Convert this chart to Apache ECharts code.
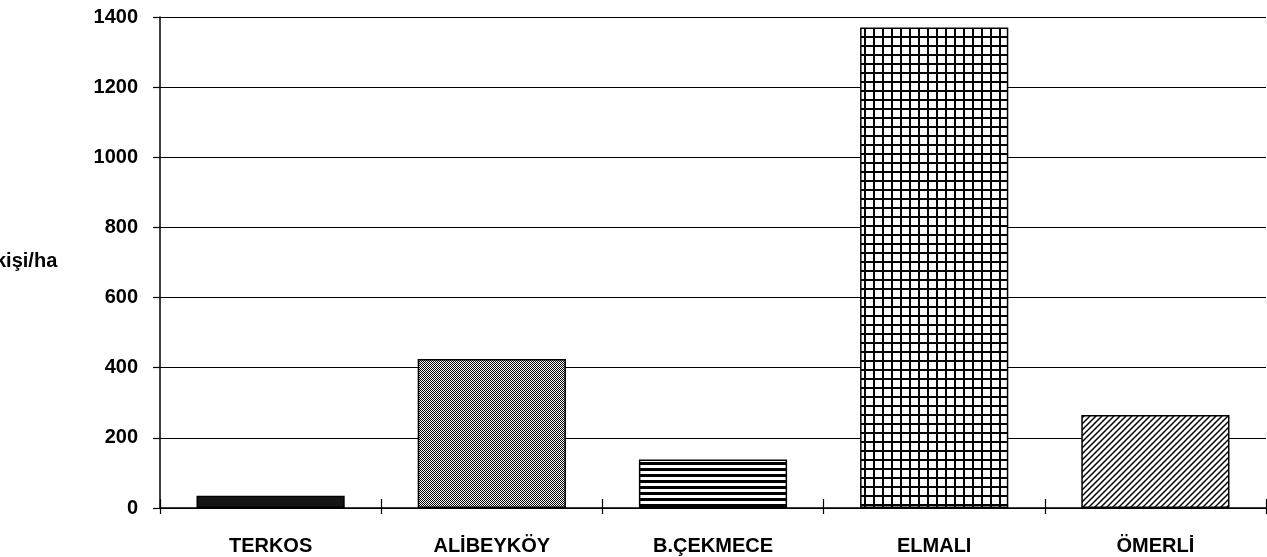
<!DOCTYPE html>
<html>
<head>
<meta charset="utf-8">
<script src="https://cdn.jsdelivr.net/npm/echarts@6/dist/echarts.min.js"></script>
<style>
  html, body { margin: 0; padding: 0; background: #fff; }
  #bar-chart { width: 1267px; height: 557px; }
</style>
</head>
<body>
<div id="bar-chart"></div>
<script>
var categories = ['TERKOS', 'ALİBEYKÖY', 'B.ÇEKMECE', 'ELMALI', 'ÖMERLİ'];
var values = [35, 425, 138, 1370, 265];
var yTicks = [0, 200, 400, 600, 800, 1000, 1200, 1400];
var yTitle = 'kişi/ha';

// small canvas tiles for the hatch fills
function tile(size, draw) {
    var c = document.createElement('canvas');
    c.width = size; c.height = size;
    var ctx = c.getContext('2d');
    ctx.fillStyle = '#fff';
    ctx.fillRect(0, 0, size, size);
    ctx.fillStyle = '#000';
    draw(ctx, size);
    return { image: c, repeat: 'repeat' };
}

var fills = [
    '#151515',
    tile(4, function (ctx) {
        // dithered grey
        ctx.fillRect(0, 0, 1, 1); ctx.fillRect(2, 0, 1, 1);
        ctx.fillRect(1, 1, 1, 1); ctx.fillRect(3, 1, 1, 1);
        ctx.fillRect(0, 2, 1, 1); ctx.fillRect(2, 2, 1, 1);
        ctx.fillRect(1, 3, 1, 1); ctx.fillRect(3, 3, 1, 1);
    }),
    tile(6, function (ctx, s) {
        ctx.fillRect(0, 0, s, 3);
    }),
    tile(9, function (ctx, s) {
        ctx.fillRect(0, 0, s, 2);
        ctx.fillRect(0, 0, 2, s);
    }),
    tile(6, function (ctx, s) {
        ctx.strokeStyle = '#000';
        ctx.lineWidth = 1.5;
        ctx.beginPath();
        ctx.moveTo(-1, s + 1); ctx.lineTo(s + 1, -1);
        ctx.moveTo(-1, 1); ctx.lineTo(1, -1);
        ctx.moveTo(s - 1, s + 1); ctx.lineTo(s + 1, s - 1);
        ctx.stroke();
    })
];

var myChart = echarts.init(document.getElementById('bar-chart'));

var font = 'Liberation Sans, Arial, Helvetica, sans-serif';

var option = {
    animation: false,
    backgroundColor: '#fff',
    grid: { left: 160, right: 1, top: 17, bottom: 49 },
    graphic: [{
        type: 'text',
        left: -5,
        top: 251,
        style: { text: yTitle, font: 'bold 20px ' + font, fill: '#000' }
    }],
    xAxis: [{
        type: 'category',
        data: categories,
        axisLine: { lineStyle: { color: '#000', width: 1.5 } },
        axisTick: { show: true, length: 6, lineStyle: { color: '#000', width: 1.2 } },
        axisLabel: { color: '#000', fontSize: 20, fontWeight: 'bold', fontFamily: font, margin: 28 }
    }, {
        type: 'category',
        data: categories,
        position: 'bottom',
        axisLine: { show: false },
        axisTick: { show: true, inside: true, length: 9, lineStyle: { color: '#000', width: 1.2 } },
        axisLabel: { show: false }
    }],
    yAxis: {
        type: 'value',
        min: yTicks[0],
        max: yTicks[yTicks.length - 1],
        interval: 200,
        axisLine: { show: true, lineStyle: { color: '#000', width: 1.5 } },
        axisTick: { show: true, length: 7, lineStyle: { color: '#000', width: 1.2 } },
        axisLabel: {
            color: '#000', fontSize: 20, fontWeight: 'bold', fontFamily: font, margin: 22,
            formatter: function (v) { return String(v); }
        },
        splitLine: { lineStyle: { color: '#000', width: 1.2 } }
    },
    series: [{
        type: 'bar',
        barCategoryGap: '33%',
        data: values.map(function (v, i) {
            return {
                value: v,
                itemStyle: { color: fills[i], borderColor: '#000', borderWidth: 1.5 }
            };
        })
    }]
};

myChart.setOption(option);
</script>
</body>
</html>
